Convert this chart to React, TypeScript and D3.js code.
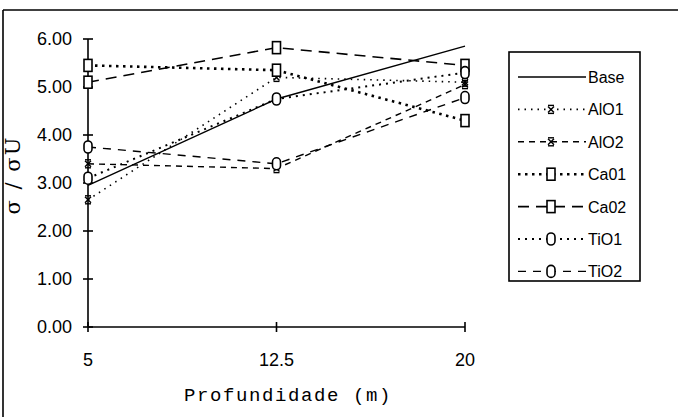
import React from "react";
import * as d3 from "d3";

// depth (m) and normalised stress for each mix
const depths = [5, 12.5, 20];
const base = [2.95, 4.75, 5.85];
const al01 = [2.65, 5.2, 5.1];
const al02 = [3.4, 3.3, 5.05];
const ca01 = [5.45, 5.35, 4.3];
const ca02 = [5.1, 5.82, 5.45];
const ti01 = [3.1, 4.75, 5.3];
const ti02 = [3.75, 3.4, 4.78];
const yTicks = [0, 1, 2, 3, 4, 5, 6];
const xTicks = [5, 12.5, 20];

const W = 678;
const H = 417;

const series = [
  { name: "Base", values: base, dash: "", width: 1.4, marker: "none" },
  { name: "AlO1", values: al01, dash: "1.5,5", width: 1.6, marker: "x" },
  { name: "AlO2", values: al02, dash: "6,5", width: 1.4, marker: "x" },
  { name: "Ca01", values: ca01, dash: "2.5,4.5", width: 2.6, marker: "square" },
  { name: "Ca02", values: ca02, dash: "11,7", width: 1.6, marker: "square" },
  { name: "TiO1", values: ti01, dash: "2,5", width: 2, marker: "circle" },
  { name: "TiO2", values: ti02, dash: "8,7", width: 1.4, marker: "circle" },
];

const Marker = ({ type, x, y }: { type: string; x: number; y: number }) => {
  if (type === "square")
    return <rect x={x - 4} y={y - 6} width={8} height={12} fill="#fff" stroke="#000" strokeWidth={1.6} />;
  if (type === "circle")
    return <rect x={x - 4} y={y - 6} width={8} height={12} rx={4} fill="#fff" stroke="#000" strokeWidth={1.6} />;
  if (type === "x")
    return (
      <g stroke="#000" strokeWidth={1.4}>
        <line x1={x - 3} y1={y - 3} x2={x + 3} y2={y + 3} />
        <line x1={x + 3} y1={y - 3} x2={x - 3} y2={y + 3} />
        <line x1={x - 3} y1={y - 4} x2={x + 3} y2={y - 4} />
        <line x1={x - 3} y1={y + 4} x2={x + 3} y2={y + 4} />
      </g>
    );
  return null;
};

export default function App() {
  const x = d3.scaleLinear().domain([5, 20]).range([88, 465]);
  const y = d3.scaleLinear().domain([0, 6]).range([327, 39]);
  const line = d3
    .line<number>()
    .x((_, i) => x(depths[i]))
    .y((d) => y(d));

  const legX = 509;
  const legY = 52;

  return (
    <div style={{ position: "fixed", left: 0, top: 0 }}>
      <svg width={W} height={H} style={{ display: "block", background: "#fff" }}>
        {/* outer frame (top and left only) */}
        <line x1={3} y1={10} x2={W} y2={10} stroke="#000" strokeWidth={1.6} />
        <line x1={3} y1={10} x2={3} y2={H} stroke="#000" strokeWidth={1.6} />

        {/* axes */}
        <line x1={x(5)} y1={y(6)} x2={x(5)} y2={y(0)} stroke="#000" strokeWidth={1.6} />
        <line x1={x(5)} y1={y(0)} x2={x(20)} y2={y(0)} stroke="#000" strokeWidth={1.6} />
        {yTicks.map((t) => (
          <g key={t}>
            <line x1={x(5) - 5} x2={x(5) + 5} y1={y(t)} y2={y(t)} stroke="#000" strokeWidth={1.6} />
            <text
              x={72}
              y={y(t) + 6}
              textAnchor="end"
              fontFamily="Liberation Sans, Arial, sans-serif"
              fontSize={18}
            >
              {t.toFixed(2)}
            </text>
          </g>
        ))}
        {xTicks.map((t) => (
          <g key={t}>
            <line x1={x(t)} x2={x(t)} y1={y(0) - 5} y2={y(0) + 5} stroke="#000" strokeWidth={1.6} />
            <text
              x={x(t)}
              y={366}
              textAnchor="middle"
              fontFamily="Liberation Sans, Arial, sans-serif"
              fontSize={18}
            >
              {t}
            </text>
          </g>
        ))}
        <text
          x={288}
          y={401}
          textAnchor="middle"
          fontFamily="Liberation Mono, Courier New, monospace"
          fontSize={19}
          letterSpacing={1.6}
        >
          Profundidade (m)
        </text>
        <text
          transform="translate(20,175) rotate(-90)"
          textAnchor="middle"
          fontFamily="DejaVu Serif, serif"
          fontSize={21}
          letterSpacing={2}
        >
          σ / σU
        </text>

        {/* series */}
        {series.map((s) => (
          <path
            key={s.name}
            d={line(s.values) || ""}
            fill="none"
            stroke="#000"
            strokeWidth={s.width}
            strokeDasharray={s.dash}
          />
        ))}
        {series.map((s) =>
          s.values.map((v, i) => <Marker key={s.name + i} type={s.marker} x={x(depths[i])} y={y(v)} />)
        )}

        {/* legend */}
        <rect x={legX} y={legY} width={131} height={229} fill="#fff" stroke="#000" strokeWidth={1.6} />
        {series.map((s, i) => {
          const cy = 77 + i * 32.4;
          return (
            <g key={s.name}>
              <line
                x1={518}
                x2={586}
                y1={cy}
                y2={cy}
                stroke="#000"
                strokeWidth={s.width}
                strokeDasharray={s.dash}
              />
              <Marker type={s.marker} x={551} y={cy} />
              <text
                x={588}
                y={cy + 6}
                fontFamily="Liberation Sans, Arial, sans-serif"
                fontSize={16}
              >
                {s.name}
              </text>
            </g>
          );
        })}
      </svg>
    </div>
  );
}
